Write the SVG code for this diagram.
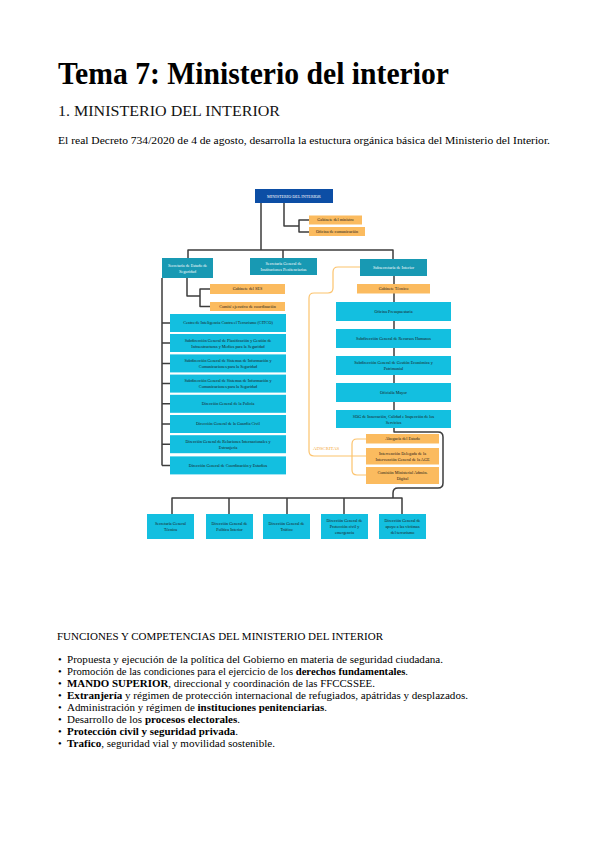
<svg xmlns="http://www.w3.org/2000/svg" width="599" height="848" viewBox="0 0 599 848">
<style>
.bg{fill:#ffffff}
.h1{font-family:"Liberation Serif",serif;font-weight:bold;font-size:32px;fill:#000}
.h2{font-family:"Liberation Serif",serif;font-size:15.5px;fill:#111}
.p{font-family:"Liberation Serif",serif;font-size:10px;fill:#000}
.li{font-family:"Liberation Serif",serif;font-size:10.5px;fill:#000}
.b{font-weight:bold}
.top{fill:#0c4ea5}
.teal{fill:#1899b3}
.cyan{fill:#13bfe0}
.org{fill:#fbbb5f}
.t{font-family:"Liberation Serif",serif;font-size:4.2px;fill:#1a1a1a;text-anchor:middle}
.w{fill:#ffffff}
.ln{fill:none;stroke:#3d3d3d;stroke-width:1.5;stroke-linejoin:round}
.ol{fill:none;stroke:#fcc36d;stroke-width:1.2}
.ad{font-family:"Liberation Serif",serif;font-size:4.8px;fill:#f4a940}
</style>
<rect class="bg" x="0" y="0" width="599" height="848"/>
<text class="h1" x="58" y="84" textLength="391" lengthAdjust="spacingAndGlyphs">Tema 7: Ministerio del interior</text>
<text class="h2" x="58" y="116" textLength="222" lengthAdjust="spacingAndGlyphs">1. MINISTERIO DEL INTERIOR</text>
<text class="p" x="58" y="144" textLength="492" lengthAdjust="spacingAndGlyphs">El real Decreto 734/2020 de 4 de agosto, desarrolla la estuctura orgánica básica del Ministerio del Interior.</text>

<g id="connectors">
<path class="ln" d="M261,203 V250 M188,258 V250 H393 V259 M283,250 V258"/>
<path class="ln" d="M284,203 V226 H299 M309,220 H299 V232 H309"/>
<path class="ln" d="M187,278 V296 H200 M210,289 H200 V306.5 H210"/>
<path class="ln" d="M162,278 V465.4 M162,323 H170 M162,343 H170 M162,363.4 H170 M162,383.6 H170 M162,403.8 H170 M162,424 H170 M162,444.2 H170 M162,465.4 H170"/>
<path class="ln" d="M394,276 V410"/>
<path class="ln" d="M394,428 V432 H438 Q443,432 443,437 V483 Q443,488 438,488 H398 Q393,488 393,493 V498"/>
<path class="ln" d="M172,514 V498 H402 V514 M229,498 V514 M287,498 V514 M344,498 V514"/>
<path class="ol" d="M360,267 H338 Q333,267 333,272 V288 Q333,293 328,293 H314 Q309,293 309,298 V451 Q309,456 314,456 H366"/>
<path class="ol" d="M366,439 H357 Q352,439 352,444 V470 Q352,475 357,475 H366"/>
</g>

<g id="n-ministerio"><rect class="top" x="255" y="189" width="78" height="14"/><text class="t w" x="294" y="197.5">MINISTERIO DEL INTERIOR</text></g>
<g id="n-gab-ministro"><rect class="org" x="309" y="215.5" width="53" height="9"/><text class="t" x="335.5" y="221.3">Gabinete del ministro</text></g>
<g id="n-ofi-com"><rect class="org" x="309" y="227" width="56" height="9"/><text class="t" x="337" y="232.8">Oficina de comunicación</text></g>

<g id="n-ses"><rect class="teal" x="162" y="258" width="51" height="20"/><text class="t w" x="187.5" y="266.5">Secretaría de Estado de</text><text class="t w" x="187.5" y="272.5">Seguridad</text></g>
<g id="n-sgip"><rect class="teal" x="250" y="258" width="67" height="17"/><text class="t w" x="283.5" y="265">Secretaría General de</text><text class="t w" x="283.5" y="271">Instituciones Penitenciarias</text></g>
<g id="n-subse"><rect class="teal" x="360" y="259" width="67" height="17"/><text class="t w" x="393.5" y="268.8">Subsecretaría de Interior</text></g>

<g id="n-gab-ses"><rect class="org" x="210" y="284" width="75" height="10"/><text class="t" x="247.5" y="290.3">Gabinete del SES</text></g>
<g id="n-comite"><rect class="org" x="210" y="302" width="75" height="9"/><text class="t" x="247.5" y="307.8">Comité ejecutivo de coordinación</text></g>

<g id="n-citco"><rect class="cyan" x="170" y="314" width="116" height="18"/><text class="t" x="228" y="324.3">Centro de Inteligencia Contra el Terrorismo (CITCO)</text></g>
<g id="n-planif"><rect class="cyan" x="170" y="334" width="116" height="18"/><text class="t" x="228" y="341.5">Subdirección General de Planificación y Gestión de</text><text class="t" x="228" y="347.5">Infraestructuras y Medios para la Seguridad</text></g>
<g id="n-sis1"><rect class="cyan" x="170" y="354.4" width="116" height="18"/><text class="t" x="228" y="361.9">Subdirección General de Sistemas de Información y</text><text class="t" x="228" y="367.9">Comunicaciones para la Seguridad</text></g>
<g id="n-sis2"><rect class="cyan" x="170" y="374.6" width="116" height="18"/><text class="t" x="228" y="382.1">Subdirección General de Sistemas de Información y</text><text class="t" x="228" y="388.1">Comunicaciones para la Seguridad</text></g>
<g id="n-policia"><rect class="cyan" x="170" y="394.8" width="116" height="18"/><text class="t" x="228" y="405.1">Dirección General de la Policía</text></g>
<g id="n-gc"><rect class="cyan" x="170" y="415" width="116" height="18"/><text class="t" x="228" y="425.3">Dirección General de la Guardia Civil</text></g>
<g id="n-rrii"><rect class="cyan" x="170" y="435.2" width="116" height="18"/><text class="t" x="228" y="442.7">Dirección General de Relaciones Internacionales y</text><text class="t" x="228" y="448.7">Extranjería</text></g>
<g id="n-coord"><rect class="cyan" x="170" y="456.4" width="116" height="18"/><text class="t" x="228" y="466.7">Dirección General de Coordinación y Estudios</text></g>

<g id="n-gab-tec"><rect class="org" x="357" y="284" width="73" height="9.5"/><text class="t" x="393.5" y="290">Gabinete Técnico</text></g>
<g id="n-presup"><rect class="cyan" x="336" y="302" width="115" height="19"/><text class="t" x="393.5" y="312.8">Oficina Presupuestaria</text></g>
<g id="n-rrhh"><rect class="cyan" x="336" y="329" width="115" height="19"/><text class="t" x="393.5" y="339.8">Subdirección General de Recursos Humanos</text></g>
<g id="n-gest"><rect class="cyan" x="336" y="356" width="115" height="19"/><text class="t" x="393.5" y="364">Subdirección General de Gestión Económica y</text><text class="t" x="393.5" y="370">Patrimonial</text></g>
<g id="n-ofic"><rect class="cyan" x="336" y="383" width="115" height="19"/><text class="t" x="393.5" y="393.8">Oficialía Mayor</text></g>
<g id="n-sdg"><rect class="cyan" x="336" y="410" width="115" height="18"/><text class="t" x="393.5" y="417.5">SDG de Innovación, Calidad e Inspección de los</text><text class="t" x="393.5" y="423.5">Servicios</text></g>

<g id="n-adscritas"><text class="ad" x="313" y="449.5">ADSCRITAS</text></g>
<g id="n-abog"><rect class="org" x="366" y="434" width="73" height="9.5"/><text class="t" x="402.5" y="440">Abogacía del Estado</text></g>
<g id="n-interv"><rect class="org" x="366" y="448" width="73" height="16.5"/><text class="t" x="402.5" y="455">Intervención Delegada de la</text><text class="t" x="402.5" y="461">Intervención General de la AGE</text></g>
<g id="n-comision"><rect class="org" x="366" y="467" width="73" height="17"/><text class="t" x="402.5" y="474.3">Comisión Ministerial Admón.</text><text class="t" x="402.5" y="480.3">Digital</text></g>

<g id="n-sgt"><rect class="cyan" x="147" y="514" width="47" height="25"/><text class="t" x="170.5" y="524.5">Secretaría General</text><text class="t" x="170.5" y="530.5">Técnica</text></g>
<g id="n-dgpi"><rect class="cyan" x="206" y="514" width="47" height="25"/><text class="t" x="229.5" y="524.5">Dirección General de</text><text class="t" x="229.5" y="530.5">Política Interior</text></g>
<g id="n-dgt"><rect class="cyan" x="263" y="514" width="47" height="25"/><text class="t" x="286.5" y="524.5">Dirección General de</text><text class="t" x="286.5" y="530.5">Tráfico</text></g>
<g id="n-dgpc"><rect class="cyan" x="321" y="514" width="47" height="25"/><text class="t" x="344.5" y="521.5">Dirección General de</text><text class="t" x="344.5" y="527.5">Protección civil y</text><text class="t" x="344.5" y="533.5">emergencia</text></g>
<g id="n-dgav"><rect class="cyan" x="379" y="514" width="47" height="25"/><text class="t" x="402.5" y="521.5">Dirección General de</text><text class="t" x="402.5" y="527.5">apoyo a las víctimas</text><text class="t" x="402.5" y="533.5">del terrorismo</text></g>

<text class="li" x="57" y="640" textLength="326" lengthAdjust="spacingAndGlyphs">FUNCIONES Y COMPETENCIAS DEL MINISTERIO DEL INTERIOR</text>
<g class="li">
<text x="58" y="663">•</text><text x="67" y="663" textLength="376" lengthAdjust="spacingAndGlyphs">Propuesta y ejecución de la política del Gobierno en materia de seguridad ciudadana.</text>
<text x="58" y="675">•</text><text x="67" y="675" textLength="341" lengthAdjust="spacingAndGlyphs">Promoción de las condiciones para el ejercicio de los <tspan class="b">derechos fundamentales</tspan>.</text>
<text x="58" y="687">•</text><text x="67" y="687" textLength="308" lengthAdjust="spacingAndGlyphs"><tspan class="b">MANDO SUPERIOR</tspan>, direccional y coordinación de las FFCCSSEE.</text>
<text x="58" y="699">•</text><text x="67" y="699" textLength="401" lengthAdjust="spacingAndGlyphs"><tspan class="b">Extranjería</tspan> y régimen de protección internacional de refugiados, apátridas y desplazados.</text>
<text x="58" y="711">•</text><text x="67" y="711" textLength="260" lengthAdjust="spacingAndGlyphs">Administración y régimen de <tspan class="b">instituciones penitenciarias</tspan>.</text>
<text x="58" y="723">•</text><text x="67" y="723" textLength="173" lengthAdjust="spacingAndGlyphs">Desarrollo de los <tspan class="b">procesos electorales</tspan>.</text>
<text x="58" y="735">•</text><text x="67" y="735" textLength="171" lengthAdjust="spacingAndGlyphs"><tspan class="b">Protección civil y seguridad privada</tspan>.</text>
<text x="58" y="747">•</text><text x="67" y="747" textLength="208" lengthAdjust="spacingAndGlyphs"><tspan class="b">Trafico</tspan>, seguridad vial y movilidad sostenible.</text>
</g>
</svg>
